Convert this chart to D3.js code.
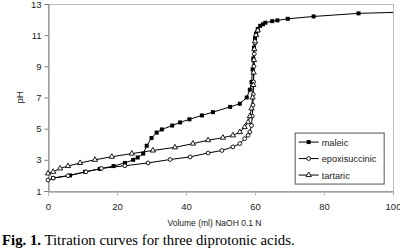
<!DOCTYPE html>
<html>
<head>
<meta charset="utf-8">
<script src="https://cdn.jsdelivr.net/npm/d3@7"></script>
<style>
  body { margin: 0; background: #fff; }
  svg { display: block; }
</style>
</head>
<body>
<div id="chart"></div>
<script>
// volume (ml) / pH pairs
const maleicVol = [1.5, 6.4, 10.7, 15, 19, 22.3, 24.7, 26, 27.6, 28.6, 30, 31.5, 33, 36, 38.3, 41, 44.6, 47.8, 52.8, 55.6, 57.6, 58.5, 59, 59.3, 59.5, 59.7, 60, 60.3, 60.8, 61.5, 62.3, 63, 65, 66.5, 69.5, 77, 90, 102];
const maleicPH = [1.83, 2.0, 2.23, 2.42, 2.6, 2.8, 3.0, 3.15, 3.4, 3.9, 4.4, 4.75, 4.95, 5.2, 5.4, 5.6, 5.85, 6.06, 6.4, 6.6, 7.0, 7.5, 8.0, 8.8, 9.5, 10.2, 10.8, 11.1, 11.4, 11.6, 11.7, 11.8, 11.9, 11.95, 12.05, 12.2, 12.4, 12.47];

const epoxVol = [0, 1.5, 5.8, 11, 15.5, 22.3, 29, 35.4, 41.2, 46.4, 50.4, 53.6, 55.6, 57, 58, 58.5, 59, 59.2, 59.4, 59.5, 59.6, 59.7, 59.8, 60, 60.3, 60.8];
const epoxPH = [1.7, 1.83, 1.98, 2.23, 2.45, 2.62, 2.8, 3.02, 3.19, 3.44, 3.6, 3.83, 4.04, 4.36, 4.57, 4.8, 5.2, 5.8, 6.5, 7.2, 8.0, 9.0, 9.8, 10.5, 11.0, 11.3];

const tartVol = [0, 1.5, 3.5, 5.8, 9.3, 13.6, 18.5, 24.3, 30.4, 36.8, 42, 46.4, 50.7, 53.6, 55.6, 57, 58, 58.5, 59, 59.3, 59.5, 59.6, 59.7, 59.8, 60, 60.3, 60.8];
const tartPH = [2.13, 2.23, 2.45, 2.6, 2.8, 3.0, 3.2, 3.4, 3.6, 3.8, 4.04, 4.26, 4.42, 4.57, 4.78, 5.1, 5.42, 5.8, 6.3, 7.0, 7.8, 8.6, 9.4, 10.1, 10.6, 11.0, 11.3];

const seriesNames = ['maleic', 'epoxisuccinic', 'tartaric'];
const xTicks = [0, 20, 40, 60, 80, 100];
const yTicks = [1, 3, 5, 7, 9, 11, 13];

const W = 400, H = 251;
const margin = { left: 48, top: 4, right: 7, bottom: 60 };
const pw = W - margin.left - margin.right;
const ph = H - margin.top - margin.bottom;

const x = d3.scaleLinear().domain([0, 100]).range([0, pw]);
const y = d3.scaleLinear().domain([1, 13]).range([ph, 0]);

const svg = d3.select('#chart').append('svg').attr('width', W).attr('height', H)
  .style('font-family', 'Liberation Sans, Arial, sans-serif');

const g = svg.append('g').attr('transform', `translate(${margin.left},${margin.top})`);

g.append('defs').append('clipPath').attr('id', 'plotclip')
  .append('rect').attr('x', -4).attr('y', -4).attr('width', pw + 4).attr('height', ph + 8);

// plot area border
g.append('rect').attr('x', 0.5).attr('y', 0.5).attr('width', pw).attr('height', ph)
  .attr('fill', 'none').attr('stroke', '#bdbdbd');

// axes
const yAxis = g.append('g').attr('transform', 'translate(0.5,0)')
  .call(d3.axisLeft(y).tickValues(yTicks).tickSize(4).tickPadding(3));
const xAxis = g.append('g').attr('transform', `translate(0,${ph + 0.5})`)
  .call(d3.axisBottom(x).tickValues(xTicks).tickSize(4).tickPadding(8));
[yAxis, xAxis].forEach(a => {
  a.selectAll('path, line').attr('stroke', '#808080');
  a.selectAll('text').attr('fill', '#222').attr('font-size', 9.5)
    .attr('font-family', 'Liberation Sans, Arial, sans-serif');
});
xAxis.selectAll('line').attr('stroke', '#bbb');

// axis titles
svg.append('text').attr('transform', `translate(23,${margin.top + y(7)}) rotate(-90)`)
  .attr('text-anchor', 'middle').attr('font-size', 9.5).attr('fill', '#222').text('pH');
svg.append('text').attr('x', margin.left + x(50) - 6).attr('y', 226)
  .attr('text-anchor', 'middle').attr('font-size', 8.5).attr('fill', '#222')
  .text('Volume (ml) NaOH 0.1 N');

// caption
const cap = svg.append('text').attr('x', 2).attr('y', 245)
  .attr('font-family', 'Liberation Serif, Times New Roman, serif').attr('font-size', 14.8).attr('fill', '#000');
cap.append('tspan').attr('font-weight', 'bold').text('Fig. 1.');
cap.append('tspan').text(' Titration curves for three diprotonic acids.');

const line = d3.line().x(d => x(d[0])).y(d => y(d[1]));
const zip = (a, b) => a.map((v, i) => [v, b[i]]);
const series = [zip(maleicVol, maleicPH), zip(epoxVol, epoxPH), zip(tartVol, tartPH)];

const plot = g.append('g').attr('clip-path', 'url(#plotclip)');

function marker(sel, k) {
  if (k === 0) {
    sel.append('rect').attr('x', -2).attr('y', -2).attr('width', 4).attr('height', 4).attr('fill', '#000');
  } else if (k === 1) {
    sel.append('circle').attr('r', 1.9).attr('fill', '#fff').attr('stroke', '#000').attr('stroke-width', 0.9);
  } else {
    sel.append('path').attr('d', d3.symbol(d3.symbolTriangle, 12)()).attr('fill', '#fff')
      .attr('stroke', '#000').attr('stroke-width', 0.9);
  }
}

series.forEach((pts, k) => {
  plot.append('path').datum(pts).attr('d', line).attr('fill', 'none')
    .attr('stroke', '#000').attr('stroke-width', 1);
});
series.forEach((pts, k) => {
  plot.selectAll(null).data(pts).enter().append('g')
    .attr('transform', d => `translate(${x(d[0])},${y(d[1])})`)
    .each(function () { marker(d3.select(this), k); });
});

// legend
const lg = g.append('g').attr('transform', `translate(${x(71.5)},${y(4.75)})`);
lg.append('rect').attr('x', 0.5).attr('y', 0.5).attr('width', 89).attr('height', 51)
  .attr('fill', '#fff').attr('stroke', '#555');
seriesNames.forEach((name, i) => {
  const row = lg.append('g').attr('transform', `translate(4,${9.5 + i * 16.5})`);
  row.append('line').attr('x1', 0).attr('x2', 20).attr('stroke', '#000');
  marker(row.append('g').attr('transform', 'translate(10,0)'), i);
  row.append('text').attr('x', 23).attr('y', 3.5).attr('font-size', 9.2).attr('fill', '#222').text(name);
});
</script>
</body>
</html>
